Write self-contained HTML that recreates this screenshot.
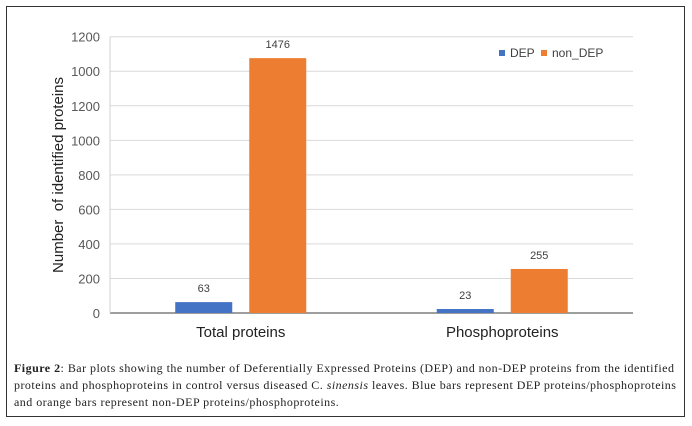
<!DOCTYPE html>
<html><head><meta charset="utf-8"><style>
body{margin:0;background:#fff;width:692px;height:426px;overflow:hidden;position:relative}
#frame{position:absolute;left:6px;top:6px;width:679px;height:411px;border:1px solid #333;box-sizing:border-box}
#cap{position:absolute;left:14px;top:360px;width:676px;font-family:"Liberation Serif",serif;font-size:12px;letter-spacing:0.47px;line-height:17px;color:#222;white-space:nowrap}
svg{position:absolute;left:0;top:0}
</style></head><body>
<div id="frame"></div>
<svg id="chart" width="692" height="345"></svg>
<div id="cap"><b>Figure 2</b>: Bar plots showing the number of Deferentially Expressed Proteins (DEP) and non-DEP proteins from the identified<br>proteins and phosphoproteins in control versus diseased C. <i>sinensis</i> leaves. Blue bars represent DEP proteins/phosphoproteins<br>and orange bars represent non-DEP proteins/phosphoproteins.</div>
<script>
const categories=["Total proteins","Phosphoproteins"];
const depValues=[63,23];
const nonDepValues=[1476,255];
const tickValues=[0,200,400,600,800,1000,1200,1400,1600];
const tickLabels=["0","200","400","600","800","1000","1200","1000","1200"];
const NS="http://www.w3.org/2000/svg";
const svg=document.getElementById('chart');
const x0=110,x1=633,yBase=313,yTop=36.7,vMax=1600;
const y=v=>yBase-(v/vMax)*(yBase-yTop);
const band=(x1-x0)/categories.length;
const xc=i=>x0+band*(i+0.5);
function mk(t,a,txt){const e=document.createElementNS(NS,t);for(const k in a)e.setAttribute(k,a[k]);if(txt!==undefined)e.textContent=txt;svg.appendChild(e);return e;}
tickValues.forEach((v,i)=>{
 if(i>0){const g=mk('line',{x1:x0,x2:x1,y1:y(v),y2:y(v),stroke:'#d9d9d9','stroke-width':1});
 
 }
 const t=mk('text',{x:100,y:y(v)+5,'text-anchor':'end','font-family':'Liberation Sans, sans-serif','font-size':13,fill:'#595959'},tickLabels[i]);
 
 
});
const ax=mk('line',{x1:x0,x2:x1,y1:yBase,y2:yBase,stroke:'#7f7f7f','stroke-width':1.5});


const ay=mk('line',{x1:x0,x2:x0,y1:yTop,y2:yBase,stroke:'#d0d0d0','stroke-width':1});


const bw=57,gap=17;
categories.forEach((c,i)=>{
 const series=[[depValues[i],'#4472c4','bar-dep'],[nonDepValues[i],'#ed7d31','bar-non-dep']];
 series.forEach((s,j)=>{
  const bx=xc(i)-gap/2-bw+j*(bw+gap);
  const r=mk('rect',{x:bx,y:y(s[0]),width:bw,height:yBase-y(s[0]),fill:s[1]});
  
  
  const l=mk('text',{x:bx+bw/2,y:y(s[0])-10,'text-anchor':'middle','font-family':'Liberation Sans, sans-serif','font-size':11,fill:'#404040'},String(s[0]));
  
  
 });
 const cl=mk('text',{x:xc(i),y:337,'text-anchor':'middle','font-family':'Liberation Sans, sans-serif','font-size':15,fill:'#222'},c);
 
 
});
const yl=mk('text',{x:0,y:0,transform:'translate(63,175) rotate(-90)','text-anchor':'middle','font-family':'Liberation Sans, sans-serif','font-size':15,fill:'#222'},'Number\u00a0\u00a0of identified proteins');


const legend=[['#4472c4','DEP',499],['#ed7d31','non_DEP',541]];
legend.forEach(L=>{
 const s=mk('rect',{x:L[2],y:50,width:6,height:6,fill:L[0]});
 
 
 const t=mk('text',{x:L[2]+11,y:57,'font-family':'Liberation Sans, sans-serif','font-size':12,fill:'#404040'},L[1]);
 
 
});
</script>
</body></html>
